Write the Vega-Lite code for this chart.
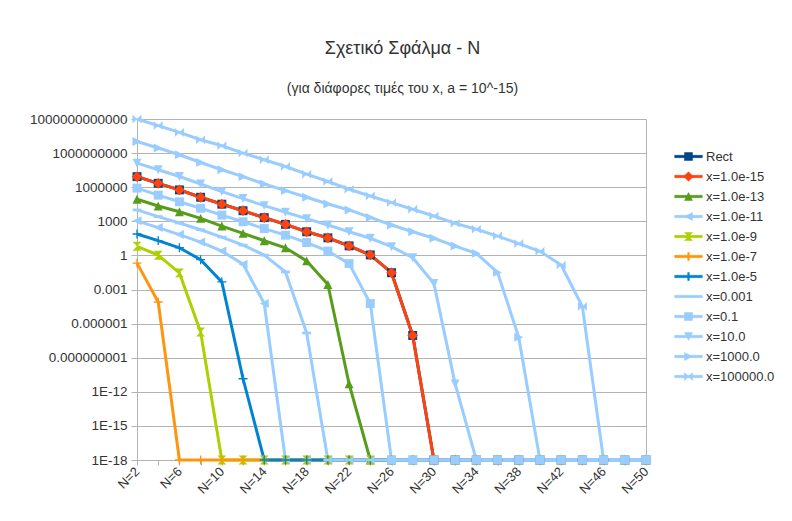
{
  "$schema": "https://vega.github.io/schema/vega-lite/v6.json",
  "width": 509,
  "height": 341,
  "autosize": {"type": "none"},
  "padding": {"left": 137, "top": 119, "right": 146, "bottom": 61},
  "background": "white",
  "title": {
    "text": "Σχετικό Σφάλμα - N",
    "subtitle": "(για διάφορες τιμές του x, a = 10^-15)",
    "font": "Liberation Sans",
    "fontSize": 18,
    "fontWeight": "normal",
    "color": "#333333",
    "subtitleFont": "Liberation Sans",
    "subtitleFontSize": 14,
    "subtitleColor": "#333333",
    "subtitlePadding": 24,
    "offset": 16,
    "anchor": "middle",
    "dx": 11
  },
  "data": {"values": [
    {"N":2,"s":"Rect","v":8.5e6},{"N":4,"s":"Rect","v":2.2e6},{"N":6,"s":"Rect","v":5.8e5},{"N":8,"s":"Rect","v":1.3e5},{"N":10,"s":"Rect","v":3.2e4},{"N":12,"s":"Rect","v":8500},{"N":14,"s":"Rect","v":2100},{"N":16,"s":"Rect","v":540},{"N":18,"s":"Rect","v":120},{"N":20,"s":"Rect","v":35},{"N":22,"s":"Rect","v":6.9},{"N":24,"s":"Rect","v":1.1},{"N":26,"s":"Rect","v":0.03},{"N":28,"s":"Rect","v":9e-8},{"N":30,"s":"Rect","v":1e-18},{"N":32,"s":"Rect","v":1e-18},{"N":34,"s":"Rect","v":1e-18},{"N":36,"s":"Rect","v":1e-18},{"N":38,"s":"Rect","v":1e-18},{"N":40,"s":"Rect","v":1e-18},{"N":42,"s":"Rect","v":1e-18},{"N":44,"s":"Rect","v":1e-18},{"N":46,"s":"Rect","v":1e-18},{"N":48,"s":"Rect","v":1e-18},{"N":50,"s":"Rect","v":1e-18},
    {"N":2,"s":"x=1.0e-15","v":8.5e6},{"N":4,"s":"x=1.0e-15","v":2.2e6},{"N":6,"s":"x=1.0e-15","v":5.8e5},{"N":8,"s":"x=1.0e-15","v":1.3e5},{"N":10,"s":"x=1.0e-15","v":3.2e4},{"N":12,"s":"x=1.0e-15","v":8500},{"N":14,"s":"x=1.0e-15","v":2100},{"N":16,"s":"x=1.0e-15","v":540},{"N":18,"s":"x=1.0e-15","v":120},{"N":20,"s":"x=1.0e-15","v":35},{"N":22,"s":"x=1.0e-15","v":6.9},{"N":24,"s":"x=1.0e-15","v":1.1},{"N":26,"s":"x=1.0e-15","v":0.03},{"N":28,"s":"x=1.0e-15","v":9e-8},{"N":30,"s":"x=1.0e-15","v":1e-18},{"N":32,"s":"x=1.0e-15","v":1e-18},{"N":34,"s":"x=1.0e-15","v":1e-18},{"N":36,"s":"x=1.0e-15","v":1e-18},{"N":38,"s":"x=1.0e-15","v":1e-18},{"N":40,"s":"x=1.0e-15","v":1e-18},{"N":42,"s":"x=1.0e-15","v":1e-18},{"N":44,"s":"x=1.0e-15","v":1e-18},{"N":46,"s":"x=1.0e-15","v":1e-18},{"N":48,"s":"x=1.0e-15","v":1e-18},{"N":50,"s":"x=1.0e-15","v":1e-18},
    {"N":2,"s":"x=1.0e-13","v":8.7e4},{"N":4,"s":"x=1.0e-13","v":2.2e4},{"N":6,"s":"x=1.0e-13","v":6900},{"N":8,"s":"x=1.0e-13","v":1800},{"N":10,"s":"x=1.0e-13","v":380},{"N":12,"s":"x=1.0e-13","v":87},{"N":14,"s":"x=1.0e-13","v":19.5},{"N":16,"s":"x=1.0e-13","v":4.7},{"N":18,"s":"x=1.0e-13","v":0.33},{"N":20,"s":"x=1.0e-13","v":2.8e-3},{"N":22,"s":"x=1.0e-13","v":5e-12},{"N":24,"s":"x=1.0e-13","v":1e-18},{"N":26,"s":"x=1.0e-13","v":1e-18},{"N":28,"s":"x=1.0e-13","v":1e-18},{"N":30,"s":"x=1.0e-13","v":1e-18},{"N":32,"s":"x=1.0e-13","v":1e-18},{"N":34,"s":"x=1.0e-13","v":1e-18},{"N":36,"s":"x=1.0e-13","v":1e-18},{"N":38,"s":"x=1.0e-13","v":1e-18},{"N":40,"s":"x=1.0e-13","v":1e-18},{"N":42,"s":"x=1.0e-13","v":1e-18},{"N":44,"s":"x=1.0e-13","v":1e-18},{"N":46,"s":"x=1.0e-13","v":1e-18},{"N":48,"s":"x=1.0e-13","v":1e-18},{"N":50,"s":"x=1.0e-13","v":1e-18},
    {"N":2,"s":"x=1.0e-11","v":1100},{"N":4,"s":"x=1.0e-11","v":280},{"N":6,"s":"x=1.0e-11","v":68},{"N":8,"s":"x=1.0e-11","v":15},{"N":10,"s":"x=1.0e-11","v":2.4},{"N":12,"s":"x=1.0e-11","v":0.17},{"N":14,"s":"x=1.0e-11","v":5.8e-5},{"N":16,"s":"x=1.0e-11","v":1e-18},{"N":18,"s":"x=1.0e-11","v":1e-18},{"N":20,"s":"x=1.0e-11","v":1e-18},{"N":22,"s":"x=1.0e-11","v":1e-18},{"N":24,"s":"x=1.0e-11","v":1e-18},{"N":26,"s":"x=1.0e-11","v":1e-18},{"N":28,"s":"x=1.0e-11","v":1e-18},{"N":30,"s":"x=1.0e-11","v":1e-18},{"N":32,"s":"x=1.0e-11","v":1e-18},{"N":34,"s":"x=1.0e-11","v":1e-18},{"N":36,"s":"x=1.0e-11","v":1e-18},{"N":38,"s":"x=1.0e-11","v":1e-18},{"N":40,"s":"x=1.0e-11","v":1e-18},{"N":42,"s":"x=1.0e-11","v":1e-18},{"N":44,"s":"x=1.0e-11","v":1e-18},{"N":46,"s":"x=1.0e-11","v":1e-18},{"N":48,"s":"x=1.0e-11","v":1e-18},{"N":50,"s":"x=1.0e-11","v":1e-18},
    {"N":2,"s":"x=1.0e-9","v":6.3},{"N":4,"s":"x=1.0e-9","v":1.05},{"N":6,"s":"x=1.0e-9","v":0.029},{"N":8,"s":"x=1.0e-9","v":1.8e-7},{"N":10,"s":"x=1.0e-9","v":1e-18},{"N":12,"s":"x=1.0e-9","v":1e-18},{"N":14,"s":"x=1.0e-9","v":1e-18},{"N":16,"s":"x=1.0e-9","v":1e-18},{"N":18,"s":"x=1.0e-9","v":1e-18},{"N":20,"s":"x=1.0e-9","v":1e-18},{"N":22,"s":"x=1.0e-9","v":1e-18},{"N":24,"s":"x=1.0e-9","v":1e-18},{"N":26,"s":"x=1.0e-9","v":1e-18},{"N":28,"s":"x=1.0e-9","v":1e-18},{"N":30,"s":"x=1.0e-9","v":1e-18},{"N":32,"s":"x=1.0e-9","v":1e-18},{"N":34,"s":"x=1.0e-9","v":1e-18},{"N":36,"s":"x=1.0e-9","v":1e-18},{"N":38,"s":"x=1.0e-9","v":1e-18},{"N":40,"s":"x=1.0e-9","v":1e-18},{"N":42,"s":"x=1.0e-9","v":1e-18},{"N":44,"s":"x=1.0e-9","v":1e-18},{"N":46,"s":"x=1.0e-9","v":1e-18},{"N":48,"s":"x=1.0e-9","v":1e-18},{"N":50,"s":"x=1.0e-9","v":1e-18},
    {"N":2,"s":"x=1.0e-7","v":0.21},{"N":4,"s":"x=1.0e-7","v":8e-5},{"N":6,"s":"x=1.0e-7","v":1e-18},{"N":8,"s":"x=1.0e-7","v":1e-18},{"N":10,"s":"x=1.0e-7","v":1e-18},{"N":12,"s":"x=1.0e-7","v":1e-18},{"N":14,"s":"x=1.0e-7","v":1e-18},{"N":16,"s":"x=1.0e-7","v":1e-18},{"N":18,"s":"x=1.0e-7","v":1e-18},{"N":20,"s":"x=1.0e-7","v":1e-18},{"N":22,"s":"x=1.0e-7","v":1e-18},{"N":24,"s":"x=1.0e-7","v":1e-18},{"N":26,"s":"x=1.0e-7","v":1e-18},{"N":28,"s":"x=1.0e-7","v":1e-18},{"N":30,"s":"x=1.0e-7","v":1e-18},{"N":32,"s":"x=1.0e-7","v":1e-18},{"N":34,"s":"x=1.0e-7","v":1e-18},{"N":36,"s":"x=1.0e-7","v":1e-18},{"N":38,"s":"x=1.0e-7","v":1e-18},{"N":40,"s":"x=1.0e-7","v":1e-18},{"N":42,"s":"x=1.0e-7","v":1e-18},{"N":44,"s":"x=1.0e-7","v":1e-18},{"N":46,"s":"x=1.0e-7","v":1e-18},{"N":48,"s":"x=1.0e-7","v":1e-18},{"N":50,"s":"x=1.0e-7","v":1e-18},
    {"N":2,"s":"x=1.0e-5","v":76},{"N":4,"s":"x=1.0e-5","v":20},{"N":6,"s":"x=1.0e-5","v":4.7},{"N":8,"s":"x=1.0e-5","v":0.42},{"N":10,"s":"x=1.0e-5","v":4.7e-3},{"N":12,"s":"x=1.0e-5","v":1.4e-11},{"N":14,"s":"x=1.0e-5","v":1e-18},{"N":16,"s":"x=1.0e-5","v":1e-18},{"N":18,"s":"x=1.0e-5","v":1e-18},{"N":20,"s":"x=1.0e-5","v":1e-18},{"N":22,"s":"x=1.0e-5","v":1e-18},{"N":24,"s":"x=1.0e-5","v":1e-18},{"N":26,"s":"x=1.0e-5","v":1e-18},{"N":28,"s":"x=1.0e-5","v":1e-18},{"N":30,"s":"x=1.0e-5","v":1e-18},{"N":32,"s":"x=1.0e-5","v":1e-18},{"N":34,"s":"x=1.0e-5","v":1e-18},{"N":36,"s":"x=1.0e-5","v":1e-18},{"N":38,"s":"x=1.0e-5","v":1e-18},{"N":40,"s":"x=1.0e-5","v":1e-18},{"N":42,"s":"x=1.0e-5","v":1e-18},{"N":44,"s":"x=1.0e-5","v":1e-18},{"N":46,"s":"x=1.0e-5","v":1e-18},{"N":48,"s":"x=1.0e-5","v":1e-18},{"N":50,"s":"x=1.0e-5","v":1e-18},
    {"N":2,"s":"x=0.001","v":1e4},{"N":4,"s":"x=0.001","v":2600},{"N":6,"s":"x=0.001","v":710},{"N":8,"s":"x=0.001","v":180},{"N":10,"s":"x=0.001","v":41},{"N":12,"s":"x=0.001","v":8.1},{"N":14,"s":"x=0.001","v":1.07},{"N":16,"s":"x=0.001","v":0.035},{"N":18,"s":"x=0.001","v":1.5e-7},{"N":20,"s":"x=0.001","v":1e-18},{"N":22,"s":"x=0.001","v":1e-18},{"N":24,"s":"x=0.001","v":1e-18},{"N":26,"s":"x=0.001","v":1e-18},{"N":28,"s":"x=0.001","v":1e-18},{"N":30,"s":"x=0.001","v":1e-18},{"N":32,"s":"x=0.001","v":1e-18},{"N":34,"s":"x=0.001","v":1e-18},{"N":36,"s":"x=0.001","v":1e-18},{"N":38,"s":"x=0.001","v":1e-18},{"N":40,"s":"x=0.001","v":1e-18},{"N":42,"s":"x=0.001","v":1e-18},{"N":44,"s":"x=0.001","v":1e-18},{"N":46,"s":"x=0.001","v":1e-18},{"N":48,"s":"x=0.001","v":1e-18},{"N":50,"s":"x=0.001","v":1e-18},
    {"N":2,"s":"x=0.1","v":8.3e5},{"N":4,"s":"x=0.1","v":2.0e5},{"N":6,"s":"x=0.1","v":5.2e4},{"N":8,"s":"x=0.1","v":1.4e4},{"N":10,"s":"x=0.1","v":3500},{"N":12,"s":"x=0.1","v":910},{"N":14,"s":"x=0.1","v":230},{"N":16,"s":"x=0.1","v":60},{"N":18,"s":"x=0.1","v":13.5},{"N":20,"s":"x=0.1","v":2.4},{"N":22,"s":"x=0.1","v":0.19},{"N":24,"s":"x=0.1","v":5.8e-5},{"N":26,"s":"x=0.1","v":1e-18},{"N":28,"s":"x=0.1","v":1e-18},{"N":30,"s":"x=0.1","v":1e-18},{"N":32,"s":"x=0.1","v":1e-18},{"N":34,"s":"x=0.1","v":1e-18},{"N":36,"s":"x=0.1","v":1e-18},{"N":38,"s":"x=0.1","v":1e-18},{"N":40,"s":"x=0.1","v":1e-18},{"N":42,"s":"x=0.1","v":1e-18},{"N":44,"s":"x=0.1","v":1e-18},{"N":46,"s":"x=0.1","v":1e-18},{"N":48,"s":"x=0.1","v":1e-18},{"N":50,"s":"x=0.1","v":1e-18},
    {"N":2,"s":"x=10.0","v":1.3e8},{"N":4,"s":"x=10.0","v":3.4e7},{"N":6,"s":"x=10.0","v":8.7e6},{"N":8,"s":"x=10.0","v":1.9e6},{"N":10,"s":"x=10.0","v":4.1e5},{"N":12,"s":"x=10.0","v":1e5},{"N":14,"s":"x=10.0","v":2.4e4},{"N":16,"s":"x=10.0","v":6300},{"N":18,"s":"x=10.0","v":1700},{"N":20,"s":"x=10.0","v":470},{"N":22,"s":"x=10.0","v":120},{"N":24,"s":"x=10.0","v":32},{"N":26,"s":"x=10.0","v":5.8},{"N":28,"s":"x=10.0","v":0.63},{"N":30,"s":"x=10.0","v":3.4e-3},{"N":32,"s":"x=10.0","v":5e-12},{"N":34,"s":"x=10.0","v":1e-18},{"N":36,"s":"x=10.0","v":1e-18},{"N":38,"s":"x=10.0","v":1e-18},{"N":40,"s":"x=10.0","v":1e-18},{"N":42,"s":"x=10.0","v":1e-18},{"N":44,"s":"x=10.0","v":1e-18},{"N":46,"s":"x=10.0","v":1e-18},{"N":48,"s":"x=10.0","v":1e-18},{"N":50,"s":"x=10.0","v":1e-18},
    {"N":2,"s":"x=1000.0","v":1.05e10},{"N":4,"s":"x=1000.0","v":2.8e9},{"N":6,"s":"x=1000.0","v":7.1e8},{"N":8,"s":"x=1000.0","v":1.5e8},{"N":10,"s":"x=1000.0","v":3.4e7},{"N":12,"s":"x=1000.0","v":8.5e6},{"N":14,"s":"x=1000.0","v":1.9e6},{"N":16,"s":"x=1000.0","v":5e5},{"N":18,"s":"x=1000.0","v":1.3e5},{"N":20,"s":"x=1000.0","v":3.3e4},{"N":22,"s":"x=1000.0","v":1e4},{"N":24,"s":"x=1000.0","v":2200},{"N":26,"s":"x=1000.0","v":470},{"N":28,"s":"x=1000.0","v":120},{"N":30,"s":"x=1000.0","v":32},{"N":32,"s":"x=1000.0","v":6.6},{"N":34,"s":"x=1000.0","v":1.5},{"N":36,"s":"x=1000.0","v":0.032},{"N":38,"s":"x=1000.0","v":6.3e-8},{"N":40,"s":"x=1000.0","v":1e-18},{"N":42,"s":"x=1000.0","v":1e-18},{"N":44,"s":"x=1000.0","v":1e-18},{"N":46,"s":"x=1000.0","v":1e-18},{"N":48,"s":"x=1000.0","v":1e-18},{"N":50,"s":"x=1000.0","v":1e-18},
    {"N":2,"s":"x=100000.0","v":1e12},{"N":4,"s":"x=100000.0","v":2.6e11},{"N":6,"s":"x=100000.0","v":6.6e10},{"N":8,"s":"x=100000.0","v":1.5e10},{"N":10,"s":"x=100000.0","v":4.4e9},{"N":12,"s":"x=100000.0","v":1e9},{"N":14,"s":"x=100000.0","v":2.6e8},{"N":16,"s":"x=100000.0","v":6.6e7},{"N":18,"s":"x=100000.0","v":1.4e7},{"N":20,"s":"x=100000.0","v":3.2e6},{"N":22,"s":"x=100000.0","v":6.6e5},{"N":24,"s":"x=100000.0","v":1.7e5},{"N":26,"s":"x=100000.0","v":4.4e4},{"N":28,"s":"x=100000.0","v":1.15e4},{"N":30,"s":"x=100000.0","v":2900},{"N":32,"s":"x=100000.0","v":660},{"N":34,"s":"x=100000.0","v":200},{"N":36,"s":"x=100000.0","v":50},{"N":38,"s":"x=100000.0","v":11},{"N":40,"s":"x=100000.0","v":2.3},{"N":42,"s":"x=100000.0","v":0.14},{"N":44,"s":"x=100000.0","v":3.2e-5},{"N":46,"s":"x=100000.0","v":1e-18},{"N":48,"s":"x=100000.0","v":1e-18},{"N":50,"s":"x=100000.0","v":1e-18}
  ]},
  "encoding": {
    "x": {
      "field": "N", "type": "quantitative",
      "scale": {"domain": [2, 50], "nice": false, "zero": false},
      "axis": {
        "title": null,
        "values": [2,4,6,8,10,12,14,16,18,20,22,24,26,28,30,32,34,36,38,40,42,44,46,48,50],
        "labelExpr": "(datum.value - 2) % 4 == 0 ? 'N=' + datum.value : ''",
        "grid": false,
        "labelAngle": 315,
        "labelAlign": "right",
        "labelBaseline": "middle",
        "labelPadding": 4,
        "labelFont": "Liberation Sans",
        "labelFontSize": 13,
        "labelColor": "#333333",
        "labelOverlap": false,
        "labelFlush": false,
        "domainColor": "#b3b3b3",
        "tickColor": "#b3b3b3",
        "tickSize": 5
      }
    },
    "y": {
      "field": "v", "type": "quantitative",
      "scale": {"type": "log", "domain": [1e-18, 1e12], "nice": false},
      "axis": {
        "title": null,
        "values": [1e12, 1e9, 1e6, 1e3, 1, 1e-3, 1e-6, 1e-9, 1e-12, 1e-15, 1e-18],
        "labelExpr": "datum.value >= 1 ? format(datum.value, 'd') : (datum.value >= 1e-9 ? format(datum.value, '.' + round(-log(datum.value)/LN10) + 'f') : '1E-' + round(-log(datum.value)/LN10))",
        "labelFont": "Liberation Sans",
        "labelFontSize": 13.5,
        "labelColor": "#333333",
        "labelOverlap": false,
        "labelFlush": false,
        "labelPadding": 4,
        "gridColor": "#b3b3b3",
        "domainColor": "#b3b3b3",
        "tickColor": "#b3b3b3",
        "tickSize": 6
      }
    },
    "color": {
      "field": "s", "type": "nominal",
      "scale": {
        "domain": ["Rect","x=1.0e-15","x=1.0e-13","x=1.0e-11","x=1.0e-9","x=1.0e-7","x=1.0e-5","x=0.001","x=0.1","x=10.0","x=1000.0","x=100000.0"],
        "range": ["#004586","#ff420e","#579d1c","#99ccff","#aecf00","#ff950e","#0084d1","#99ccff","#99ccff","#99ccff","#99ccff","#99ccff"]
      },
      "legend": {
        "title": null,
        "orient": "none",
        "legendX": 545,
        "legendY": 31,
        "padding": 0,
        "labelFont": "Liberation Sans",
        "labelFontSize": 13,
        "labelColor": "#333333",
        "labelOffset": 11,
        "rowPadding": 6,
        "symbolSize": 64,
        "symbolOpacity": 1,
        "symbolStrokeWidth": 0.5,
        "encode": {
          "symbols": {
            "update": {
              "fill": {"signal": "scale('color', datum.value)"},
              "opacity": {"value": 1}
            }
          }
        }
      }
    }
  },
  "layer": [
    {
      "mark": {"type": "point", "filled": true, "opacity": 0},
      "encoding": {
        "shape": {
          "field": "s", "type": "nominal",
          "scale": {
            "domain": ["Rect","x=1.0e-15","x=1.0e-13","x=1.0e-11","x=1.0e-9","x=1.0e-7","x=1.0e-5","x=0.001","x=0.1","x=10.0","x=1000.0","x=100000.0"],
            "range": [
              "M-3.45,-0.3H3.45V0.3H-3.45Z M-1,-1H1V1H-1Z",
              "M-3.45,-0.3H3.45V0.3H-3.45Z M0,-1.2L1.2,0L0,1.2L-1.2,0Z",
              "M-3.45,-0.3H3.45V0.3H-3.45Z M0,-1L1,1H-1Z",
              "M-3.45,-0.3H3.45V0.3H-3.45Z M-1,0L1,-1V1Z",
              "M-3.45,-0.3H3.45V0.3H-3.45Z M-1,-1H1L0,0Z M0,0L1,1H-1Z",
              "M-3.45,-0.3H3.45V0.3H-3.45Z M-0.2,-1H0.2V1H-0.2Z",
              "M-3.45,-0.3H3.45V0.3H-3.45Z M-0.2,-1H0.2V1H-0.2Z",
              "M-3.45,-0.3H3.45V0.3H-3.45Z",
              "M-3.45,-0.3H3.45V0.3H-3.45Z M-1,-1H1V1H-1Z",
              "M-3.45,-0.3H3.45V0.3H-3.45Z M-1,-1H1L0,1Z",
              "M-3.45,-0.3H3.45V0.3H-3.45Z M1,0L-1,1V-1Z",
              "M-3.45,-0.3H3.45V0.3H-3.45Z M-1,-1L0,0L-1,1Z M1,-1L1,1L0,0Z"
            ]
          }
        }
      }
    },
    {
      "mark": {"type": "line", "strokeWidth": 3}
    },
    {
      "mark": {
        "type": "point", "filled": true, "size": 80, "opacity": 1,
        "shape": {"expr": "datum.s == 'Rect' || datum.s == 'x=0.1' ? 'M-1,-1H1V1H-1Z' : datum.s == 'x=1.0e-15' ? 'M0,-1.2L1.2,0L0,1.2L-1.2,0Z' : datum.s == 'x=1.0e-13' ? 'M0,-1L1,1H-1Z' : datum.s == 'x=1.0e-11' ? 'M-1,0L1,-1V1Z' : datum.s == 'x=1.0e-9' ? 'M-1,-1H1L0,0Z M0,0L1,1H-1Z' : datum.s == 'x=1.0e-7' || datum.s == 'x=1.0e-5' ? 'M-1,-0.15H-0.15V-1H0.15V-0.15H1V0.15H0.15V1H-0.15V0.15H-1Z' : datum.s == 'x=0.001' ? 'M-1,-0.3H1V0.3H-1Z' : datum.s == 'x=10.0' ? 'M-1,-1H1L0,1Z' : datum.s == 'x=1000.0' ? 'M1,0L-1,1V-1Z' : 'M-1,-1L0,0L-1,1Z M1,-1L1,1L0,0Z'"}
      }
    }
  ],
  "config": {
    "view": {"stroke": "#b3b3b3"},
    "font": "Liberation Sans"
  }
}
